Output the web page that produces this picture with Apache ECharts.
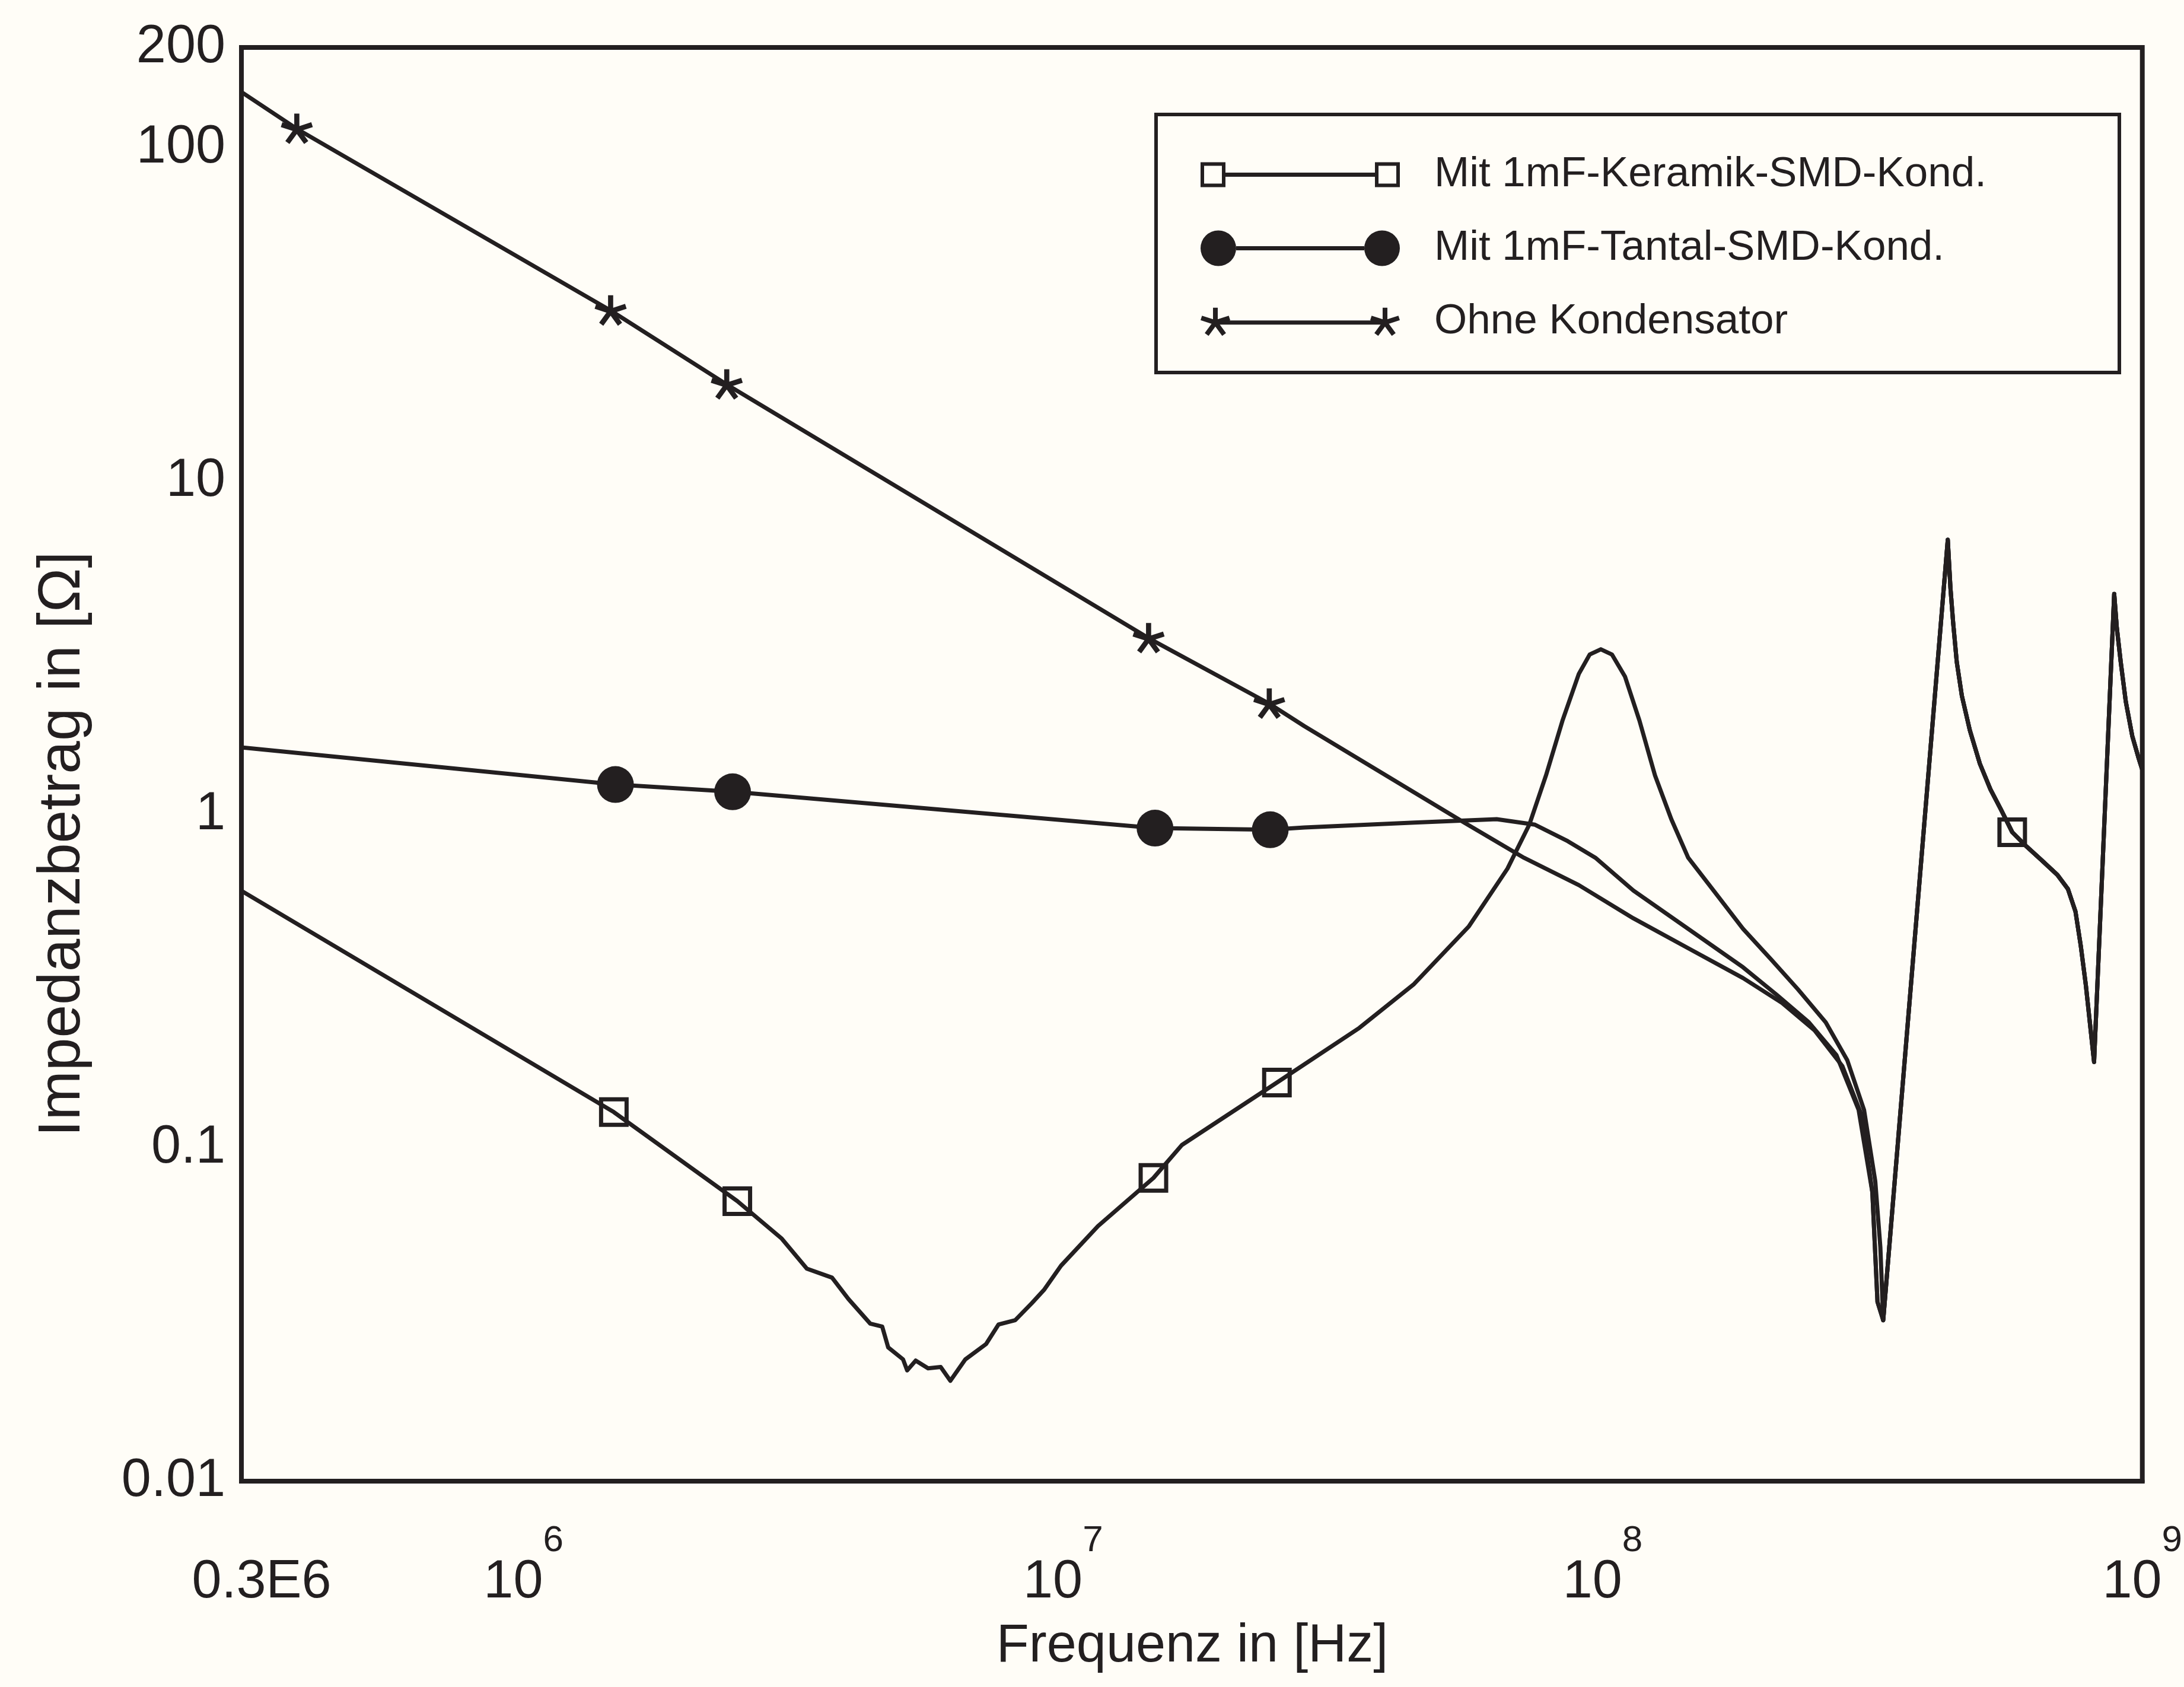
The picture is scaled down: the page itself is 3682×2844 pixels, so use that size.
<!DOCTYPE html>
<html>
<head>
<meta charset="utf-8">
<script src="https://cdn.jsdelivr.net/npm/echarts@6/dist/echarts.min.js"></script>
<style>
html,body{margin:0;padding:0;background:#fffdf7;}
#c{width:3682px;height:2844px;}
</style>
</head>
<body>
<div id="c"></div>
<script>
// ---------------- data ----------------
const seriesNames = ['Mit 1mF-Keramik-SMD-Kond.', 'Mit 1mF-Tantal-SMD-Kond.', 'Ohne Kondensator'];
const xTitle = 'Frequenz in [Hz]';
const yTitle = 'Impedanzbetrag in [Ω]';

// Keramik curve, low/mid frequency part (Hz, Ohm)
const keramikF = [3.0e5, 1.47e6, 2.49e6, 3.01e6, 3.35e6, 3.73e6, 4.00e6, 4.39e6, 4.62e6, 4.74e6, 5.05e6, 5.14e6, 5.33e6, 5.62e6, 5.93e6, 6.18e6, 6.59e6, 7.20e6, 7.59e6, 8.15e6, 8.75e6, 9.23e6, 9.91e6, 1.16e7, 1.47e7, 1.66e7, 2.49e7, 3.54e7, 4.47e7, 5.65e7, 6.66e7, 7.31e7, 7.85e7, 8.42e7, 9.03e7, 9.46e7, 9.92e7, 1.04e8, 1.10e8, 1.17e8, 1.25e8, 1.34e8, 1.44e8, 1.62e8, 1.82e8, 2.05e8, 2.30e8, 2.59e8, 2.84e8, 3.05e8, 3.20e8, 3.27e8];
const keramikZ = [0.59, 0.128, 0.0692, 0.0534, 0.0434, 0.0408, 0.0352, 0.0297, 0.0291, 0.0252, 0.0232, 0.0215, 0.0230, 0.0218, 0.0220, 0.0200, 0.0232, 0.0258, 0.0295, 0.0304, 0.0342, 0.0376, 0.0443, 0.0582, 0.0812, 0.102, 0.157, 0.229, 0.310, 0.462, 0.688, 0.932, 1.31, 1.91, 2.64, 3.02, 3.13, 3.02, 2.59, 1.91, 1.31, 0.968, 0.742, 0.580, 0.454, 0.368, 0.299, 0.238, 0.183, 0.130, 0.0793, 0.0503];

// Tantal curve
const tantalF = [3.0e5, 1.48e6, 2.44e6, 1.48e7, 2.42e7, 2.80e7, 4.47e7, 6.36e7, 7.49e7, 8.61e7, 9.69e7, 1.14e8, 1.44e8, 1.82e8, 2.10e8, 2.41e8, 2.71e8, 2.98e8, 3.16e8, 3.23e8];
const tantalZ = [1.59, 1.23, 1.17, 0.91, 0.90, 0.914, 0.946, 0.968, 0.932, 0.832, 0.742, 0.591, 0.454, 0.348, 0.288, 0.238, 0.190, 0.130, 0.0736, 0.0345];

// Ohne Kondensator curve
const ohneF = [3.0e5, 3.80e5, 1.45e6, 2.38e6, 1.44e7, 2.41e7, 2.80e7, 5.52e7, 7.15e7, 9.03e7, 1.14e8, 1.44e8, 1.82e8, 2.15e8, 2.47e8, 2.78e8, 3.02e8, 3.16e8, 3.23e8];
const ohneZ = [147, 114, 32.5, 19.5, 3.38, 2.15, 1.84, 0.948, 0.741, 0.614, 0.488, 0.397, 0.323, 0.272, 0.225, 0.176, 0.125, 0.0736, 0.0345];

// shared high-frequency part (all three curves coincide here)
const tailF = [3.31e8, 4.36e8, 4.41e8, 4.46e8, 4.53e8, 4.63e8, 4.79e8, 5.00e8, 5.23e8, 5.47e8, 5.74e8, 6.10e8, 6.52e8, 6.96e8, 7.28e8, 7.52e8, 7.69e8, 7.86e8, 8.14e8, 8.87e8, 8.97e8, 9.12e8, 9.32e8, 9.58e8, 9.85e8, 1.0e9];
const tailZ = [0.0304, 6.67, 4.78, 3.78, 2.87, 2.27, 1.79, 1.42, 1.19, 1.035, 0.885, 0.802, 0.727, 0.659, 0.598, 0.511, 0.404, 0.307, 0.181, 4.59, 3.63, 2.87, 2.18, 1.72, 1.47, 1.36];

// marker positions
const keramikMarkF = [1.47e6, 2.49e6, 1.47e7, 2.49e7, 5.74e8];
const keramikMarkZ = [0.128, 0.0692, 0.0812, 0.157, 0.885];
const tantalMarkF = [1.48e6, 2.44e6, 1.48e7, 2.42e7];
const tantalMarkZ = [1.23, 1.17, 0.91, 0.90];
const ohneMarkF = [3.80e5, 1.45e6, 2.38e6, 1.44e7, 2.41e7];
const ohneMarkZ = [114, 32.5, 19.5, 3.38, 2.15];

// axis ranges / labels
const xMin = 3e5, xMax = 1e9;
const yMin = 0.01, yMax = 200;
const xMinLabel = '0.3E6';

// ---------------- styling helpers ----------------
const INK = '#231f20';
const FONT = "'Liberation Sans', Arial, sans-serif";

const zip = (fs, zs) => fs.map((f, i) => [f, zs[i]]);

function armsPath(cx, cy, R, w, back) {
  let s = '';
  for (let k = 0; k < 5; k++) {
    const a = (-90 + 72 * k) * Math.PI / 180;
    const dx = Math.cos(a), dy = Math.sin(a);
    const px = -dy, py = dx;
    const P1 = [cx - back * dx + w * px, cy - back * dy + w * py];
    const P2 = [cx + R * dx + w * px, cy + R * dy + w * py];
    const P3 = [cx + R * dx - w * px, cy + R * dy - w * py];
    const P4 = [cx - back * dx - w * px, cy - back * dy - w * py];
    const f = p => p[0].toFixed(2) + ',' + p[1].toFixed(2);
    s += 'M' + f(P4) + 'L' + f(P3) + 'L' + f(P2) + 'L' + f(P1) + 'Z';
  }
  return s;
}

const SQUARE_SYM = 'path://M0,0L50,0L50,50L0,50ZM7,7L7,43L43,43L43,7Z';
const STAR_SYM = 'path://' + armsPath(50, 50, 50, 8, 6);

const ICON_SQ = 'path://M0,0L42,0L42,42L0,42ZM6,6L6,36L36,36L36,6Z' +
  'M42,17.5L294,17.5L294,24.5L42,24.5Z' +
  'M294,0L336,0L336,42L294,42ZM300,6L300,36L330,36L330,6Z';
const ICON_CI = 'path://M0,30A30,30,0,1,1,60,30A30,30,0,1,1,0,30Z' +
  'M60,26.5L276,26.5L276,33.5L60,33.5Z' +
  'M276,30A30,30,0,1,1,336,30A30,30,0,1,1,276,30Z';
const ICON_ST = 'path://' + armsPath(25, 25, 25, 4, 3) +
  'M25,21.5L311,21.5L311,28.5L25,28.5Z' + armsPath(311, 25, 25, 4, 3);

const lineSeries = (name, data) => ({
  type: 'line', name, data, showSymbol: false, symbol: 'none',
  lineStyle: { color: INK, width: 7, join: 'round' }, itemStyle: { color: INK },
  z: 2, animation: false, clip: true
});
const markSeries = (name, data, symbol, size, keep) => ({
  type: 'scatter', name, data, symbol, symbolSize: size, symbolKeepAspect: !!keep,
  itemStyle: { color: INK, opacity: 1 }, z: 3, animation: false
});

const chart = echarts.init(document.getElementById('c'), null, { renderer: 'canvas' });

chart.setOption({
  backgroundColor: '#fffdf7',
  animation: false,
  textStyle: { fontFamily: FONT, color: INK },
  grid: {
    left: 407, top: 80, width: 3206, height: 2417,
    show: true, borderColor: INK, borderWidth: 8, backgroundColor: 'transparent'
  },
  graphic: [
    {
      type: 'text', x: 2010, y: 2776, silent: true,
      style: { text: xTitle, fontSize: 90, fontFamily: FONT, fill: INK, align: 'center', verticalAlign: 'middle' }
    },
    {
      type: 'text', x: 106, y: 1423, rotation: Math.PI / 2, silent: true,
      style: { text: yTitle, fontSize: 100, fontFamily: FONT, fill: INK, align: 'center', verticalAlign: 'middle' }
    }
  ],
  legend: {
    orient: 'vertical', left: 1949, top: 193,
    padding: [66, 224, 50, 75], itemGap: 53,
    itemWidth: 336, itemHeight: 64, symbolKeepAspect: true,
    borderColor: INK, borderWidth: 6, backgroundColor: 'transparent',
    selectedMode: false,
    itemStyle: { color: INK, borderWidth: 0 },
    textStyle: { fontSize: 71, lineHeight: 64, color: INK, fontFamily: FONT, padding: [0, 0, 0, 53] },
    data: [
      { name: seriesNames[0], icon: ICON_SQ },
      { name: seriesNames[1], icon: ICON_CI },
      { name: seriesNames[2], icon: ICON_ST }
    ]
  },
  xAxis: {
    type: 'log', logBase: 10, min: xMin, max: xMax,
    axisLine: { show: true, lineStyle: { color: INK, width: 8 } },
    axisTick: { show: false }, minorTick: { show: false },
    splitLine: { show: false }, minorSplitLine: { show: false },
    axisLabel: {
      margin: 70, color: INK, showMinLabel: true, showMaxLabel: true,
      formatter: v => v < 5e5 ? '{m|' + xMinLabel + '}' : '{b|10}{s|' + Math.round(Math.log10(v)) + '}',
      rich: {
        b: { fontSize: 90, lineHeight: 146, verticalAlign: 'bottom', fontFamily: FONT, color: INK },
        m: { fontSize: 90, lineHeight: 146, verticalAlign: 'bottom', fontFamily: FONT, color: INK, padding: [0, 0, 0, 68] },
        s: { fontSize: 62, lineHeight: 66, verticalAlign: 'top', fontFamily: FONT, color: INK }
      }
    }
  },
  yAxis: {
    type: 'log', logBase: 10, min: yMin, max: yMax,
    axisLine: { show: true, lineStyle: { color: INK, width: 8 } },
    axisTick: { show: false }, minorTick: { show: false },
    splitLine: { show: false }, minorSplitLine: { show: false },
    axisLabel: {
      margin: 27, fontSize: 90, color: INK, fontFamily: FONT, showMinLabel: true, showMaxLabel: true,
      padding: [24, 0, 0, 0],
      formatter: v => v >= 1 ? String(Math.round(v)) : String(+v.toPrecision(1))
    }
  },
  series: [
    lineSeries(seriesNames[0], zip(keramikF.concat(tailF), keramikZ.concat(tailZ))),
    lineSeries(seriesNames[1], zip(tantalF.concat(tailF), tantalZ.concat(tailZ))),
    lineSeries(seriesNames[2], zip(ohneF.concat(tailF), ohneZ.concat(tailZ))),
    markSeries(seriesNames[0], zip(keramikMarkF, keramikMarkZ), SQUARE_SYM, 50, false),
    markSeries(seriesNames[1], zip(tantalMarkF, tantalMarkZ), 'circle', 62, false),
    markSeries(seriesNames[2], zip(ohneMarkF, ohneMarkZ), STAR_SYM, 54, true)
  ]
});
</script>
</body>
</html>
